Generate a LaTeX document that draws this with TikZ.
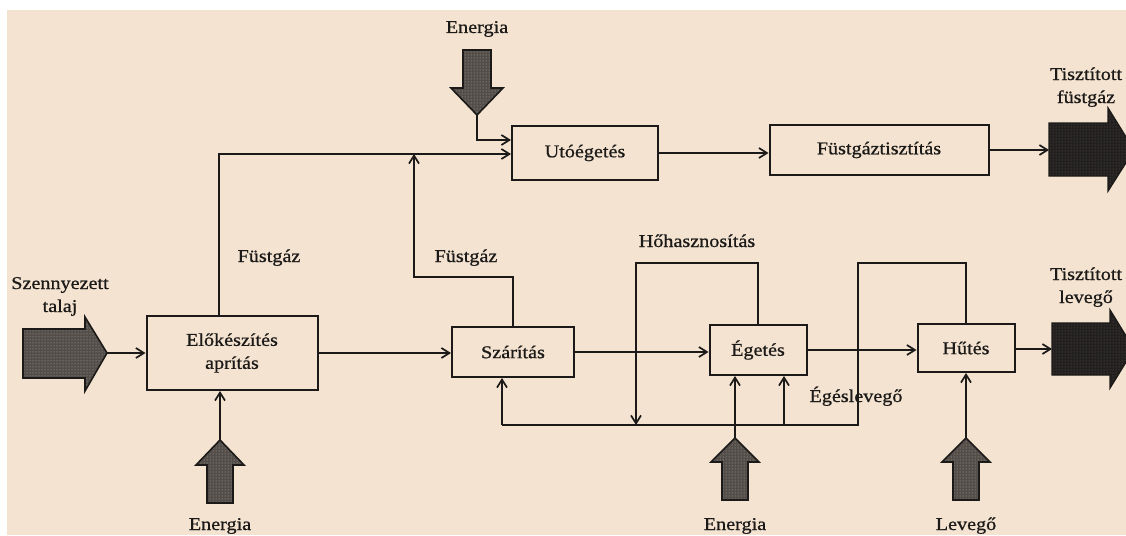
\documentclass[tikz,border=0pt]{standalone}
\usepackage{fontspec}
\setmainfont{Liberation Serif}[FakeStretch=1.12,FakeBold=0.8]
\usetikzlibrary{arrows.meta,patterns}
\definecolor{paper}{RGB}{243,227,208}
\definecolor{ink}{RGB}{28,26,24}
\definecolor{grayfill}{RGB}{82,77,72}
\definecolor{graydot}{RGB}{185,177,167}
\definecolor{darkfill}{RGB}{34,32,31}
\definecolor{darkdot}{RGB}{95,92,88}
\tikzset{
  box/.style={draw=ink, line width=2pt, inner sep=0pt, align=center},
  ln/.style={draw=ink, line width=2pt},
  arr/.style={ln, -{Straight Barb[length=8pt,width=10pt,line width=1.7pt]}},
  lbl/.style={anchor=base, align=center, inner sep=0pt},
  fatgray/.style={draw=ink, line width=1.6pt, preaction={fill=grayfill}, pattern=dots, pattern color=graydot},
  fatdark/.style={draw=ink, line width=1.4pt, preaction={fill=darkfill}, pattern=dots, pattern color=darkdot}
}
\begin{document}
\begin{tikzpicture}[x=1pt,y=-1pt,color=ink,font=\fontsize{18}{23}\selectfont]
\useasboundingbox (0,0) rectangle (1126,535);
\fill[white] (0,0) rectangle (1126,535);
\fill[paper] (7,10) rectangle (1126,535);

% boxes
\node[box, minimum width=146pt, minimum height=54pt] (uto) at (585,153) {Utóégetés};
\node[box, minimum width=219pt, minimum height=50pt] (fust) at (879,150) {Füstgáztisztítás};
\node[box, minimum width=171pt, minimum height=74pt] (elo) at (232,353) {Előkészítés\\aprítás};
\node[box, minimum width=122pt, minimum height=50pt] (szar) at (513,352) {Szárítás};
\node[box, minimum width=97pt, minimum height=50pt] (eget) at (758,350) {Égetés};
\node[box, minimum width=97pt, minimum height=48pt] (hut) at (966,348) {Hűtés};

% labels (multi-line labels: base = last line)
\node[lbl] (enTop) at (477,33) {Energia};
\node[lbl] (fg1) at (269,262) {Füstgáz};
\node[lbl] (fg2) at (466,262) {Füstgáz};
\node[lbl] (hoh) at (697,247) {Hőhasznosítás};
\node[lbl] (tfg) at (1086,103) {Tisztított\\füstgáz};
\node[lbl] (tlv) at (1086,303) {Tisztított\\levegő};
\node[lbl] (szt) at (60,312) {Szennyezett\\talaj};
\node[lbl] (egl) at (856,402) {Égéslevegő};
\node[lbl] (enElo) at (220,530) {Energia};
\node[lbl] (enEg) at (735,530) {Energia};
\node[lbl] (lev) at (966,530) {Levegő};

% coordinates
\coordinate (eTopTip) at (477,115);
\coordinate (eTopBend) at (477,140);
\coordinate (fgTurn) at (219,154);
\coordinate (jn) at (414,154);
\coordinate (szTop) at (414,277);
\coordinate (hTop) at (636,263);
\coordinate (hDown) at (636,425);
\coordinate (rTop) at (858,263);
\coordinate (rBot) at (858,425);
\coordinate (szBot) at (502,425);
\coordinate (eAir) at (784,425);
\coordinate (lTip) at (107,353);
\coordinate (eEloTip) at (220,440);
\coordinate (eEgTip) at (735,438);
\coordinate (lvTip) at (966,438);
\coordinate (daTop) at (1049,150);
\coordinate (daBot) at (1052,349);

% fat arrows
\path[fatgray] (463,50) -- (491,50) -- (491,88) -- (503,88) -- (eTopTip) -- (451,88) -- (463,88) -- cycle;
\path[fatgray] (23,329) -- (85,329) -- (85,317) -- (lTip) -- (85,391) -- (85,378) -- (23,378) -- cycle;
\path[fatgray] (207,503) -- (207,465) -- (196,465) -- (eEloTip) -- (244,465) -- (233,465) -- (233,503) -- cycle;
\path[fatgray] (722,500) -- (722,462) -- (711,462) -- (eEgTip) -- (759,462) -- (748,462) -- (748,500) -- cycle;
\path[fatgray] (953,500) -- (953,462) -- (942,462) -- (lvTip) -- (990,462) -- (979,462) -- (979,500) -- cycle;
\path[fatdark] (daTop |- 0,123) -- (1108,123) -- (1108,108) -- (1134,150) -- (1108,191) -- (1108,176) -- (daTop |- 0,176) -- cycle;
\path[fatdark] (daBot |- 0,323) -- (1110,323) -- (1110,310) -- (1134,349) -- (1110,388) -- (1110,375) -- (daBot |- 0,375) -- cycle;

% connectors
\draw[arr] (eTopTip) -- (eTopBend) -- (uto.west |- eTopBend);
\draw[arr] (elo.north -| fgTurn) -- (fgTurn) -- (uto.west |- fgTurn);
\draw[arr] (szar.north) -- (szar.north |- szTop) -- (szTop) -- (jn);
\draw[arr] (uto.east) -- (fust.west |- uto.east);
\draw[arr] (fust.east) -- (daTop);
\draw[arr] (lTip) -- (elo.west |- lTip);
\draw[arr] (elo.east) -- (szar.west |- elo.east);
\draw[arr] (szar.east) -- (eget.west |- szar.east);
\draw[arr] (eget.east) -- (hut.west |- eget.east);
\draw[arr] (hut.east |- daBot) -- (daBot);
\draw[arr] (eEloTip) -- (eEloTip |- elo.south);
\draw[arr] (eEgTip) -- (eEgTip |- eget.south);
\draw[arr] (lvTip) -- (lvTip |- hut.south);
\draw[arr] (eget.north) -- (eget.north |- hTop) -- (hTop) -- (hDown);
\draw[ln] (hut.north) -- (hut.north |- rTop) -- (rTop) -- (rBot) -- (szBot);
\draw[arr] (szBot) -- (szBot |- szar.south);
\draw[arr] (eAir) -- (eAir |- eget.south);
\end{tikzpicture}
\end{document}
